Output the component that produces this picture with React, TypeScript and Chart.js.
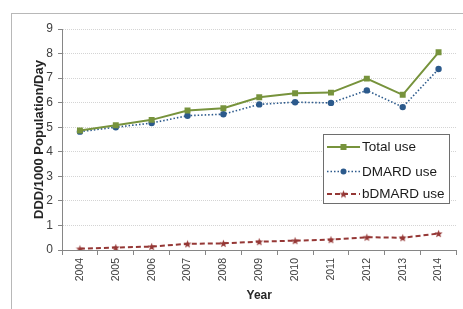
import React, { useEffect, useRef } from 'react';
import { Chart, registerables } from 'chart.js';
Chart.register(...registerables);

const years = ['2004', '2005', '2006', '2007', '2008', '2009', '2010', '2011', '2012', '2013', '2014'];
const totalUse = [4.87, 5.08, 5.3, 5.68, 5.77, 6.22, 6.38, 6.41, 6.98, 6.32, 8.05];
const dmardUse = [4.82, 5.0, 5.17, 5.47, 5.53, 5.93, 6.02, 5.99, 6.5, 5.82, 7.37];
const bdmardUse = [0.05, 0.1, 0.14, 0.25, 0.27, 0.34, 0.38, 0.42, 0.52, 0.5, 0.67];
const seriesNames = ['Total use', 'DMARD use', 'bDMARD use'];
const yAxisTitle = 'DDD/1000 Population/Day';
const xAxisTitle = 'Year';

const GREEN = '#77933C';
const BLUE = '#2C5A8C';
const RED = '#953735';
const FONT = 'Arial, "Liberation Sans", sans-serif';

export default function App() {
  const ref = useRef<HTMLCanvasElement>(null);
  useEffect(() => {
    const star = document.createElement('canvas');
    star.width = 9;
    star.height = 9;
    const sc = star.getContext('2d')!;
    sc.fillStyle = RED;
    sc.beginPath();
    for (let i = 0; i < 10; i++) {
      const r = i % 2 === 0 ? 4.2 : 1.8;
      const a = -Math.PI / 2 + (i * Math.PI) / 5;
      const x = 4.5 + r * Math.cos(a);
      const y = 4.9 + r * Math.sin(a);
      if (i === 0) sc.moveTo(x, y);
      else sc.lineTo(x, y);
    }
    sc.closePath();
    sc.fill();

    const legendPlugin = {
      id: 'boxLegend',
      afterDraw(chart: any) {
        const ctx = chart.ctx as CanvasRenderingContext2D;
        const bx = 323.5, by = 134.5, bw = 126, bh = 69;
        ctx.save();
        ctx.fillStyle = '#ffffff';
        ctx.fillRect(bx, by, bw, bh);
        ctx.strokeStyle = '#6e6e6e';
        ctx.lineWidth = 1;
        ctx.setLineDash([]);
        ctx.strokeRect(bx, by, bw, bh);
        const rows = [147, 171.5, 194];
        chart.data.datasets.forEach((ds: any, i: number) => {
          const y = rows[i];
          ctx.save();
          ctx.strokeStyle = ds.borderColor;
          ctx.lineWidth = ds.borderWidth;
          ctx.setLineDash(ds.borderDash || []);
          ctx.beginPath();
          ctx.moveTo(327, y);
          ctx.lineTo(360, y);
          ctx.stroke();
          ctx.restore();
          const mx = 343.5;
          ctx.fillStyle = ds.pointBackgroundColor;
          if (ds.pointStyle === 'rect') {
            ctx.fillRect(mx - 3, y - 3, 6, 6);
          } else if (ds.pointStyle === 'circle') {
            ctx.beginPath();
            ctx.arc(mx, y, 3, 0, Math.PI * 2);
            ctx.fill();
          } else {
            ctx.drawImage(star, mx - 4.5, y - 4.5);
          }
          ctx.fillStyle = '#1a1a1a';
          ctx.font = `13.5px ${FONT}`;
          ctx.textBaseline = 'middle';
          ctx.textAlign = 'left';
          ctx.fillText(ds.label, 362, y + 0.5);
        });
        ctx.restore();
      },
    };

    const chart = new Chart(ref.current!, {
      type: 'line',
      data: {
        labels: years,
        datasets: [
          {
            label: seriesNames[0],
            data: totalUse,
            borderColor: GREEN,
            backgroundColor: GREEN,
            pointBackgroundColor: GREEN,
            pointBorderColor: GREEN,
            borderWidth: 2,
            pointStyle: 'rect',
            pointRadius: 4.2,
            pointBorderWidth: 0,
            tension: 0,
          },
          {
            label: seriesNames[1],
            data: dmardUse,
            borderColor: BLUE,
            backgroundColor: BLUE,
            pointBackgroundColor: BLUE,
            pointBorderColor: BLUE,
            borderWidth: 1.6,
            borderDash: [1.5, 2],
            pointStyle: 'circle',
            pointRadius: 3.2,
            pointBorderWidth: 0,
            tension: 0,
          },
          {
            label: seriesNames[2],
            data: bdmardUse,
            borderColor: RED,
            backgroundColor: RED,
            pointBackgroundColor: RED,
            pointBorderColor: RED,
            borderWidth: 2,
            borderDash: [5, 3],
            pointStyle: star as any,
            pointRadius: 4.5,
            tension: 0,
          },
        ],
      } as any,
      options: {
        animation: false,
        responsive: false,
        layout: { padding: { left: 28, top: 29, right: 3, bottom: 4 } },
        plugins: { legend: { display: false }, tooltip: { enabled: false } },
        scales: {
          x: {
            offset: true,
            grid: { offset: true, drawOnChartArea: false, tickLength: 5, tickColor: '#868686' },
            border: { color: '#868686' },
            ticks: { minRotation: 90, maxRotation: 90, padding: 3, color: '#404040', font: { family: FONT, size: 10.5 } },
            title: { display: true, text: xAxisTitle, color: '#262626', font: { family: FONT, size: 12, weight: 'bold' }, padding: { top: 2, bottom: 2 } },
            afterFit: (s: any) => { s.height = 55; },
          },
          y: {
            min: 0,
            max: 9,
            grid: { color: '#d4d4d4', tickLength: 4, tickColor: '#868686' },
            border: { color: '#868686', dash: [1, 1] },
            ticks: { stepSize: 1, padding: 5, color: '#404040', font: { family: FONT, size: 12 } },
            title: { display: true, text: yAxisTitle, color: '#262626', font: { family: FONT, size: 13, weight: 'bold' } },
            afterFit: (s: any) => { s.width = 34; },
          },
        },
      } as any,
      plugins: [legendPlugin],
    });
    return () => chart.destroy();
  }, []);

  return (
    <div style={{ position: 'fixed', left: 0, top: 0, width: 463, height: 309, background: '#fff', overflow: 'hidden' }}>
      <div style={{ position: 'absolute', left: 11, top: 13, width: 460, height: 310, borderLeft: '1px solid #b8b8b8', borderTop: '1px solid #b8b8b8' }} />
      <canvas ref={ref} width={463} height={309} style={{ position: 'absolute', left: 0, top: 0 }} />
    </div>
  );
}
